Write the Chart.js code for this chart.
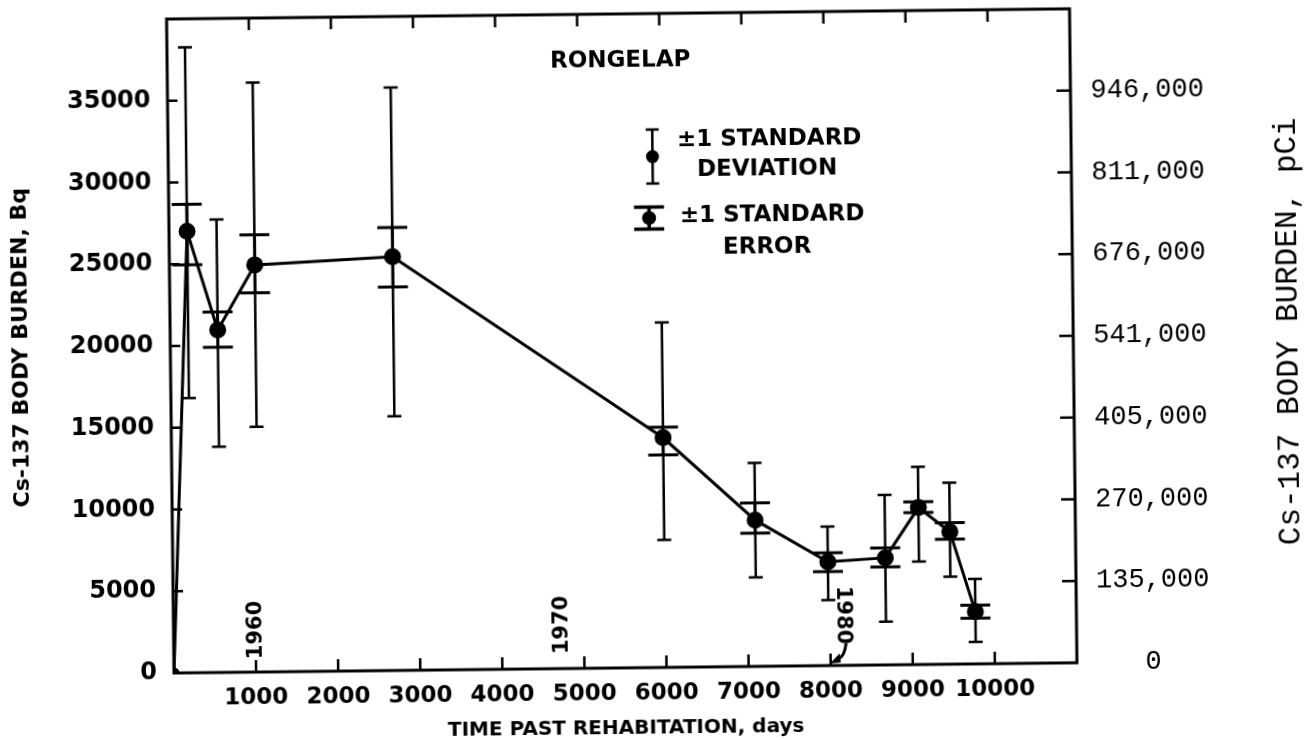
<!DOCTYPE html>
<html>
<head>
<meta charset="utf-8">
<script src="https://cdn.jsdelivr.net/npm/chart.js@4.4.1/dist/chart.umd.min.js"></script>
<style>
  html, body { margin: 0; padding: 0; background: #fff; overflow: hidden; }
  #wrap { width: 1311px; height: 740px; position: relative; overflow: hidden; }
  #myChart { transform: rotate(-0.65deg); transform-origin: 174px 673px; }
</style>
</head>
<body>
<div id="wrap"><canvas id="myChart" width="1311" height="752"></canvas></div>
<script>
// days past rehabitation and mean Cs-137 body burden (Bq)
var days = [0, 220, 580, 1040, 2720, 5990, 7100, 7980, 8680, 9090, 9470, 9770];
var burden = [0, 27000, 20950, 24900, 25300, 14050, 8950, 6350, 6550, 9600, 8100, 3200];
// +/- 1 standard deviation
var sdHigh = [null, 38250, 27700, 36050, 35650, 21100, 12450, 8500, 10400, 12100, 11100, 5200];
var sdLow = [null, 16800, 13800, 15000, 15550, 7800, 5450, 4000, 2650, 6300, 5350, 1350];
// +/- 1 standard error
var seHigh = [null, 28650, 22050, 26750, 27100, 14700, 10000, 6900, 7150, 9950, 8650, 3600];
var seLow = [null, 24950, 19900, 23200, 23450, 13000, 8150, 5750, 6000, 9300, 7650, 2800];

var bqTicks = [0, 5000, 10000, 15000, 20000, 25000, 30000, 35000];
var pciLabels = ["0", "135,000", "270,000", "405,000", "541,000", "676,000", "811,000", "946,000"];
var dayTicks = [1000, 2000, 3000, 4000, 5000, 6000, 7000, 8000, 9000, 10000];

var years = ["1960", "1970", "1980"];
var yearDays = [1005, 4735, 8160];
var yearBq = [2570, 2670, 3080];

var letterFont = "'DejaVu Sans', sans-serif";
var typeFont = "'Liberation Mono', 'DejaVu Sans Mono', monospace";

// wanted plot box inside the canvas
var box = {left: 174, top: 19, right: 1077, bottom: 673};
var canvasH = 752;
var xHeight = canvasH - box.bottom;

function bar(ctx, x, y1, y2, capW, lw) {
  ctx.lineWidth = lw;
  ctx.beginPath();
  ctx.moveTo(x, y1); ctx.lineTo(x, y2);
  ctx.moveTo(x - capW / 2, y1); ctx.lineTo(x + capW / 2, y1);
  ctx.moveTo(x - capW / 2, y2); ctx.lineTo(x + capW / 2, y2);
  ctx.stroke();
}

var extras = {
  id: "extras",
  afterDatasetsDraw: function (chart) {
    var ctx = chart.ctx;
    var xs = chart.scales.x, ys = chart.scales.y;
    var a = chart.chartArea;
    ctx.save();
    ctx.strokeStyle = "#000";
    ctx.fillStyle = "#000";
    ctx.lineCap = "butt";

    // error bars
    for (var i = 0; i < days.length; i++) {
      if (sdHigh[i] == null) continue;
      var px = xs.getPixelForValue(days[i]);
      bar(ctx, px, ys.getPixelForValue(sdHigh[i]), ys.getPixelForValue(sdLow[i]), 14, 2.5);
      bar(ctx, px, ys.getPixelForValue(seHigh[i]), ys.getPixelForValue(seLow[i]), 30, 3);
    }

    // frame
    ctx.lineWidth = 3;
    ctx.strokeRect(a.left, a.top, a.right - a.left, a.bottom - a.top);

    // inward tick marks
    ctx.lineWidth = 2.5;
    ctx.beginPath();
    dayTicks.forEach(function (d) {
      var p = xs.getPixelForValue(d);
      ctx.moveTo(p, a.bottom); ctx.lineTo(p, a.bottom - 12);
      ctx.moveTo(p, a.top); ctx.lineTo(p, a.top + 12);
    });
    bqTicks.forEach(function (v) {
      if (v === 0) return;
      var p = ys.getPixelForValue(v);
      ctx.moveTo(a.left, p); ctx.lineTo(a.left + 10, p);
      ctx.moveTo(a.right, p); ctx.lineTo(a.right - 14, p);
    });
    ctx.stroke();

    // title inside plot
    ctx.font = "bold 23px " + letterFont;
    ctx.textAlign = "center";
    ctx.textBaseline = "middle";
    ctx.fillText("RONGELAP", xs.getPixelForValue(5520), ys.getPixelForValue(37100));

    // legend: standard deviation glyph
    var gx = xs.getPixelForValue(5900), gy = ys.getPixelForValue(31250);
    bar(ctx, gx, gy - 27, gy + 27, 13, 2.5);
    ctx.beginPath(); ctx.arc(gx, gy, 6.5, 0, Math.PI * 2); ctx.fill();
    // legend: standard error glyph
    var hx = xs.getPixelForValue(5850), hy = ys.getPixelForValue(27500);
    bar(ctx, hx, hy - 11, hy + 11, 30, 3.5);
    ctx.beginPath(); ctx.arc(hx, hy, 7, 0, Math.PI * 2); ctx.fill();

    ctx.textAlign = "left";
    ctx.font = "bold 23px " + letterFont;
    ctx.fillText("\u00b11 STANDARD", xs.getPixelForValue(6200), ys.getPixelForValue(32250));
    ctx.fillText("DEVIATION", xs.getPixelForValue(6440), ys.getPixelForValue(30400));
    ctx.fillText("\u00b11 STANDARD", xs.getPixelForValue(6225), ys.getPixelForValue(27570));
    ctx.fillText("ERROR", xs.getPixelForValue(6745), ys.getPixelForValue(25640));

    // calendar year marks along the time axis
    ctx.font = "bold 21px " + letterFont;
    ctx.textAlign = "center";
    for (var k = 0; k < years.length; k++) {
      ctx.save();
      ctx.translate(xs.getPixelForValue(yearDays[k]), ys.getPixelForValue(yearBq[k]));
      ctx.rotate(k === 2 ? Math.PI / 2 : -Math.PI / 2);
      ctx.fillText(years[k], 0, 0);
      ctx.restore();
    }
    // little arrow from 1980 down to the axis
    var ax0 = xs.getPixelForValue(8190), ay0 = ys.getPixelForValue(1350);
    var ax1 = xs.getPixelForValue(7990), ay1 = ys.getPixelForValue(120);
    ctx.lineWidth = 3;
    ctx.beginPath();
    ctx.moveTo(ax0, ay0);
    ctx.quadraticCurveTo(ax0 - 2, ay1 - 4, ax1 + 6, ay1 - 5);
    ctx.stroke();
    ctx.beginPath();
    ctx.moveTo(ax1, ay1);
    ctx.lineTo(ax1 + 10, ay1 - 10);
    ctx.lineTo(ax1 + 11, ay1 - 1);
    ctx.closePath();
    ctx.fill();

    // right axis title, read from bottom to top
    ctx.font = "31px " + typeFont;
    ctx.save();
    ctx.translate(1293, (a.top + a.bottom) / 2 - 2);
    ctx.rotate(-Math.PI / 2);
    ctx.fillText("Cs-137 BODY BURDEN, pCi", 0, 0);
    ctx.restore();
    ctx.restore();
  }
};

var chart = new Chart("myChart", {
  type: "line",
  data: {
    datasets: [{
      data: days.map(function (d, i) { return {x: d, y: burden[i]}; }),
      borderColor: "#000",
      borderWidth: 3,
      backgroundColor: "#000",
      pointBackgroundColor: "#000",
      pointBorderColor: "#000",
      pointRadius: [4, 7, 7, 7, 7, 7, 7, 7, 7, 7, 7, 7],
      tension: 0,
      fill: false
    }]
  },
  options: {
    responsive: false,
    animation: false,
    events: [],
    layout: {padding: {top: box.top, left: 0, right: 0, bottom: 0}},
    plugins: {legend: {display: false}, tooltip: {enabled: false}},
    scales: {
      x: {
        type: "linear",
        min: 0, max: 11000,
        grid: {display: false, drawTicks: true, tickLength: 12},
        border: {display: false},
        ticks: {
          stepSize: 1000, autoSkip: false, maxRotation: 0, padding: 0,
          color: "#000", font: {family: letterFont, size: 23, weight: "bold"},
          callback: function (v) { return dayTicks.indexOf(v) >= 0 ? String(v) : ""; }
        },
        title: {
          display: true, text: "TIME PAST REHABITATION, days", color: "#000",
          font: {family: letterFont, size: 20, weight: "bold", lineHeight: 1},
          padding: {top: 0, bottom: 8}
        },
        afterFit: function (s) { s.height = xHeight; }
      },
      y: {
        position: "left",
        min: 0, max: 40000,
        grid: {display: false, drawTicks: true, tickLength: 17},
        border: {display: false},
        ticks: {
          stepSize: 5000, padding: 0, color: "#000",
          font: {family: letterFont, size: 24, weight: "bold"},
          callback: function (v) { return bqTicks.indexOf(v) >= 0 ? String(v) : ""; }
        },
        title: {
          display: true, text: "Cs-137 BODY BURDEN, Bq", color: "#000",
          font: {family: letterFont, size: 22, weight: "bold", lineHeight: 1},
          padding: {top: 14, bottom: 0}
        },
        afterFit: function (s) { s.width = box.left; }
      },
      y2: {
        position: "right",
        min: 0, max: 40000,
        grid: {display: false, drawTicks: true, tickLength: 20},
        border: {display: false},
        ticks: {
          stepSize: 5000, padding: 0, crossAlign: "center", color: "#000",
          font: {family: typeFont, size: 27},
          callback: function (v) {
            var i = bqTicks.indexOf(v);
            return i >= 0 ? pciLabels[i] : "";
          }
        },
        afterFit: function (s) { s.width = 1311 - box.right; }
      }
    }
  },
  plugins: [extras]
});

// nudge the layout so the plot box lands where the reference has it
for (var pass = 0; pass < 3; pass++) {
  var ca = chart.chartArea;
  chart.options.layout.padding.top += box.top - ca.top;
  xHeight += ca.bottom - box.bottom;
  chart.update();
}
</script>
</body>
</html>
